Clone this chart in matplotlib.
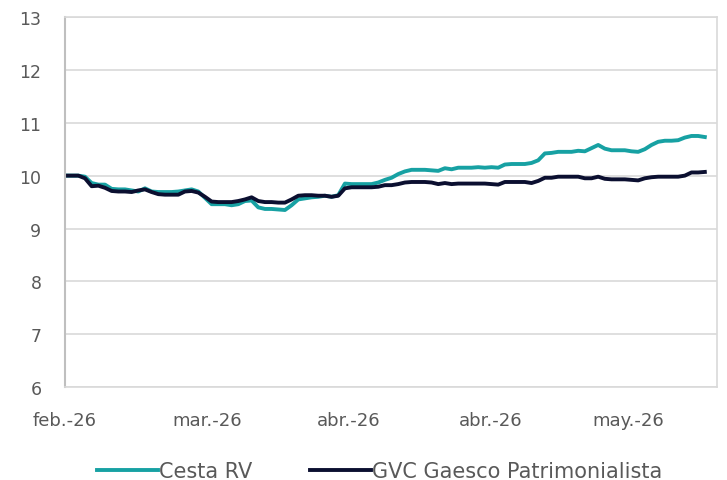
import matplotlib.pyplot as plt
import numpy as np

# values (base 10)
cesta_rv = [10.00, 10.00, 10.00, 9.98, 9.86, 9.83, 9.83, 9.75, 9.74, 9.74,
            9.72, 9.70, 9.76, 9.70, 9.69, 9.69, 9.69, 9.70, 9.72, 9.74,
            9.70, 9.58, 9.46, 9.46, 9.46, 9.44, 9.46, 9.52, 9.53, 9.40,
            9.37, 9.37, 9.36, 9.35, 9.44, 9.55, 9.57, 9.59, 9.60, 9.62,
            9.60, 9.63, 9.85, 9.84, 9.84, 9.84, 9.84, 9.87, 9.92, 9.96,
            10.03, 10.08, 10.11, 10.11, 10.11, 10.10, 10.09, 10.14, 10.12, 10.15,
            10.15, 10.15, 10.16, 10.15, 10.16, 10.15, 10.21, 10.22, 10.22, 10.22,
            10.24, 10.29, 10.42, 10.43, 10.45, 10.45, 10.45, 10.47, 10.46, 10.52,
            10.58, 10.51, 10.48, 10.48, 10.48, 10.46, 10.45, 10.50, 10.58, 10.64,
            10.66, 10.66, 10.67, 10.72, 10.75, 10.75, 10.73]

gvc_patrimonialista = [10.00, 10.00, 10.00, 9.95, 9.80, 9.81, 9.77, 9.71, 9.70, 9.70,
                       9.69, 9.72, 9.74, 9.69, 9.65, 9.64, 9.64, 9.64, 9.70, 9.71,
                       9.68, 9.60, 9.51, 9.50, 9.50, 9.50, 9.52, 9.55, 9.59, 9.52,
                       9.50, 9.50, 9.49, 9.49, 9.55, 9.62, 9.63, 9.63, 9.62, 9.62,
                       9.60, 9.62, 9.76, 9.78, 9.78, 9.78, 9.78, 9.79, 9.82, 9.82,
                       9.84, 9.87, 9.88, 9.88, 9.88, 9.87, 9.84, 9.86, 9.84, 9.85,
                       9.85, 9.85, 9.85, 9.85, 9.84, 9.83, 9.88, 9.88, 9.88, 9.88,
                       9.86, 9.90, 9.96, 9.96, 9.98, 9.98, 9.98, 9.98, 9.95, 9.95,
                       9.98, 9.94, 9.93, 9.93, 9.93, 9.92, 9.91, 9.95, 9.97, 9.98,
                       9.98, 9.98, 9.98, 10.00, 10.06, 10.06, 10.07]

tick_labels = ['feb.-26', 'mar.-26', 'abr.-26', 'abr.-26', 'may.-26']
tick_pos = [0, 21.3, 42.6, 63.9, 84.5]

x = np.arange(len(cesta_rv))

fig = plt.figure(figsize=(7.27, 4.81), dpi=100)
ax = fig.add_axes([0.0894, 0.193, 0.8966, 0.7696])

ax.plot(x, cesta_rv, color='#17a1a3', linewidth=2.8, label='Cesta RV', solid_joinstyle='round')
ax.plot(x, gvc_patrimonialista, color='#0b0f30', linewidth=2.8, label='GVC Gaesco Patrimonialista',
        solid_joinstyle='round')

ax.set_xlim(0, 97.8)
ax.set_ylim(6, 13)
ax.set_yticks(range(6, 14))
ax.set_xticks(tick_pos)
ax.set_xticklabels(tick_labels)

ax.grid(axis='y', color='#d9d9d9', linewidth=1.2)
ax.set_axisbelow(True)
for side in ['top', 'right', 'bottom']:
    ax.spines[side].set_color('#d9d9d9')
    ax.spines[side].set_linewidth(1.2)
ax.spines['left'].set_color('#bfbfbf')
ax.spines['left'].set_linewidth(1.5)

ax.tick_params(axis='both', length=0, labelcolor='#595959')
ax.tick_params(axis='x', pad=17, labelsize=13)
ax.tick_params(axis='y', pad=17, labelsize=12.5)

ax.legend(loc='upper center', bbox_to_anchor=(0.483, -0.15), ncol=2, frameon=False,
          fontsize=15, handlelength=2.9, handletextpad=0.05, columnspacing=2.8,
          labelcolor='#595959')

plt.savefig('out.png', dpi=100)
